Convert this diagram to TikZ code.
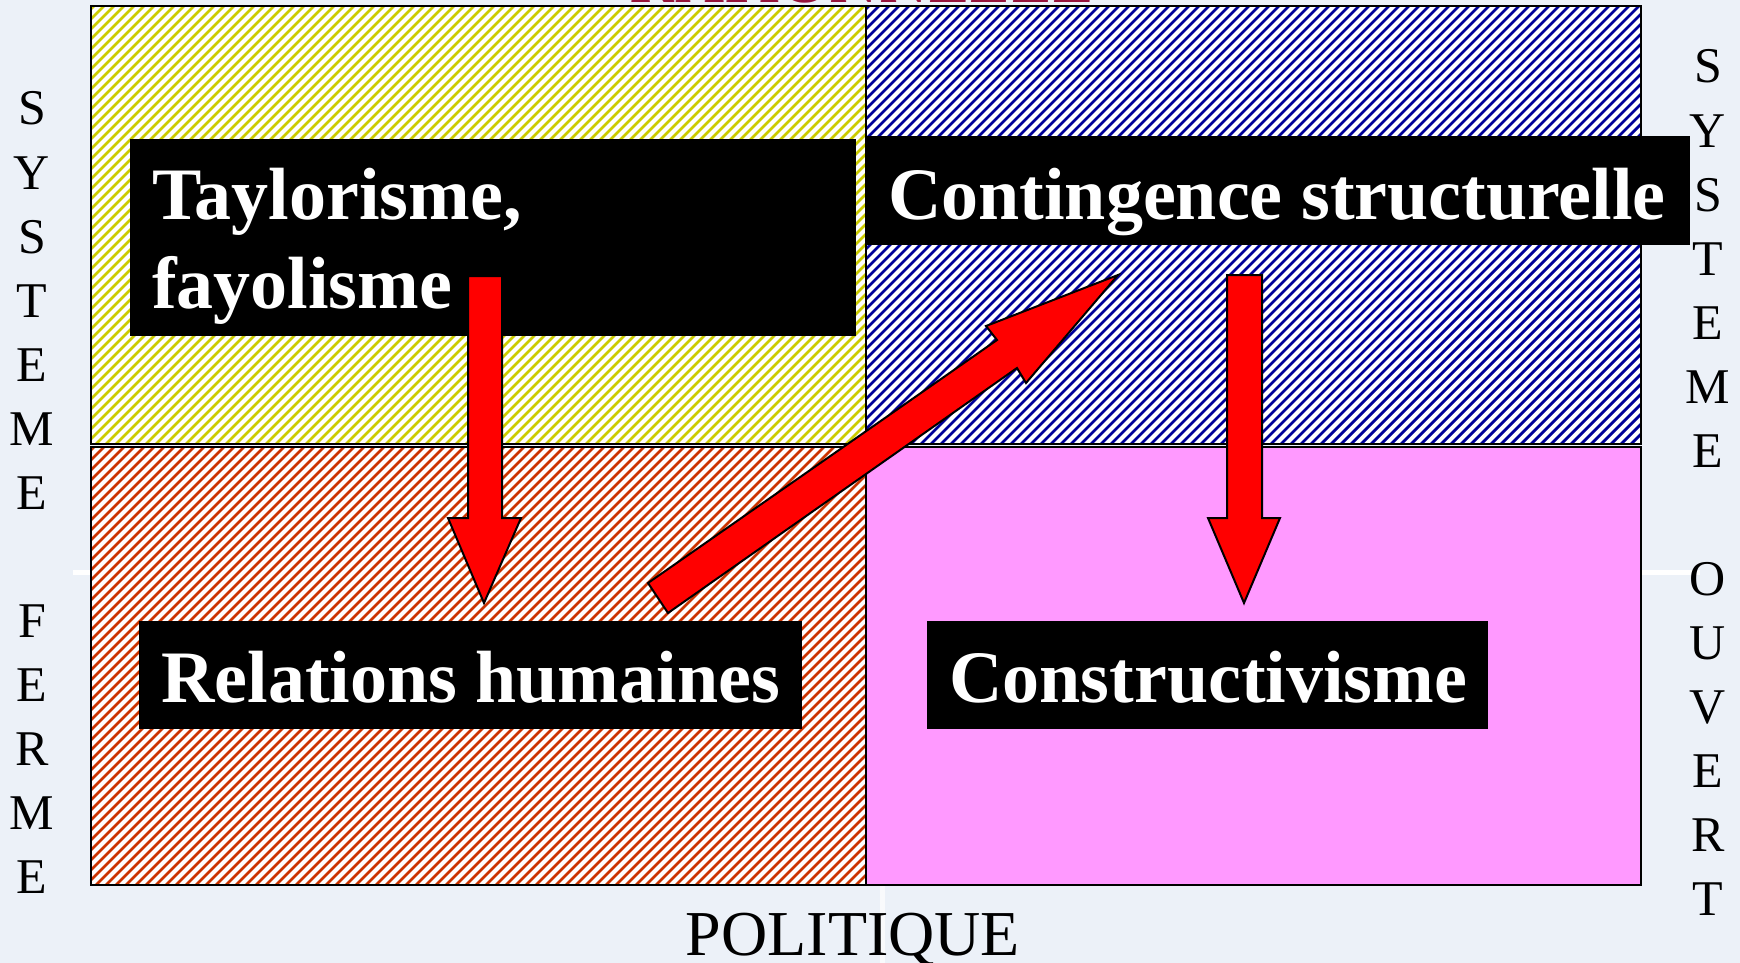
\documentclass[tikz,border=0pt]{standalone}
\usepackage{fontspec}
\setmainfont{Liberation Serif}
\definecolor{bg}{RGB}{236,241,248}
\definecolor{hyel}{RGB}{204,204,0}
\definecolor{hblue}{RGB}{0,0,153}
\definecolor{hred}{RGB}{204,51,0}
\definecolor{pinkq}{RGB}{255,153,255}
\definecolor{crim}{RGB}{150,20,60}
\definecolor{arrred}{RGB}{255,0,0}
\newcommand\myhatch[5]{%
  \begin{scope}
    \clip (#1,#2) rectangle (#3,#4);
    \fill[white] (#1,#2) rectangle (#3,#4);
    \foreach \k in {0,...,130} {
      \draw[#5, line width=2.8] ({#1-450+\k*10},#4+5) -- ++(470,-470);
    }
  \end{scope}}
\begin{document}
\begin{tikzpicture}[x=1pt,y=-1pt,
  quad/.style={draw=black,line width=2.4},
  tbox/.style={fill=black,draw=none,inner sep=0,anchor=north west},
  ttext/.style={font=\bfseries\fontsize{74}{80}\selectfont,text=white,inner sep=0,anchor=base west},
  side/.style={font=\fontsize{50}{56}\selectfont,inner sep=0,anchor=base},
  blockarrow/.style={fill=arrred,draw=black,line width=2,line join=miter}]
\useasboundingbox (0,0) rectangle (1740,963);
\fill[bg] (0,0) rectangle (1740,963);
% background artefacts
\fill[white] (73,570) rectangle (91,575);
\fill[white] (1641,570) rectangle (1700,575);
\fill[white,opacity=0.7] (880,885) rectangle (885,963);
% top axis label (cut off)
\node[font=\fontsize{68}{72}\selectfont,text=crim,inner sep=0,anchor=base] (top) at (862,3) {RATIONNELLE};
% quadrants
\myhatch{91}{6}{866}{444}{hyel}
\myhatch{866}{6}{1641}{444}{hblue}
\myhatch{91}{447}{866}{885}{hred}
\fill[pinkq] (866,447) rectangle (1641,885);
\draw[quad] (91,6) rectangle (866,444);
\draw[quad] (866,6) rectangle (1641,444);
\draw[quad] (91,447) rectangle (866,885);
\draw[quad] (866,447) rectangle (1641,885);
% black label boxes
\node[tbox,minimum width=726,minimum height=197] (tay) at (130,139) {};
\node[ttext] (tay1) at (152,219) {Taylorisme,};
\node[ttext] (tay2) at (152,308) {fayolisme};
\node[tbox,minimum width=823,minimum height=109] (con) at (867,136) {};
\node[ttext] (cont) at (888,219) {Contingence structurelle};
\node[tbox,minimum width=663,minimum height=108] (rel) at (139,621) {};
\node[ttext] (relt) at (161,702) {Relations humaines};
\node[tbox,minimum width=561,minimum height=108] (cst) at (927,621) {};
\node[ttext] (cstt) at (949,702) {Constructivisme};
% block arrows
\draw[blockarrow] (468,276) -- (502,276) -- (502,518) -- (521,518) -- (484,603) -- (448,518) -- (468,518) -- cycle;
\draw[blockarrow] (1227,275) -- (1262,275) -- (1262,518) -- (1280,518) -- (1244,603) -- (1208,518) -- (1227,518) -- cycle;
\draw[blockarrow] (648,583) -- (997,340) -- (986,326) -- (1118,275) -- (1026,383) -- (1017,368) -- (668,613) -- cycle;
% side labels
\foreach \l [count=\i from 0] in {S,Y,S,T,E,M,E,,F,E,R,M,E}
  \node[side] (l\i) at (32,125+64*\i) {\l};
\foreach \l [count=\i from 0] in {S,Y,S,T,E,M,E,,O,U,V,E,R,T}
  \node[side] (r\i) at (1708,83+64*\i) {\l};
\node[font=\fontsize{64}{70}\selectfont,inner sep=0,anchor=base] (pol) at (853,955) {POLITIQUE};
\end{tikzpicture}
\end{document}
